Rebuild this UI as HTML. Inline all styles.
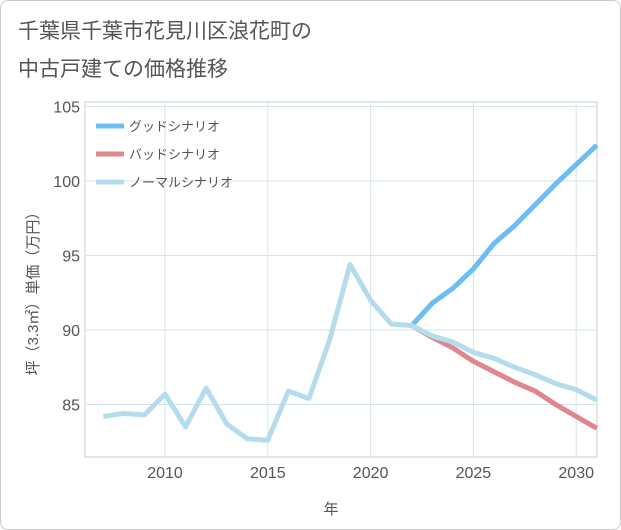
<!DOCTYPE html>
<html><head><meta charset="utf-8"><style>
body{margin:0;background:#fff;font-family:"Liberation Sans","Noto Sans CJK JP",sans-serif;}
.card{position:relative;width:619px;height:528px;border:1px solid #ccc;border-radius:8px;overflow:hidden;background:#fff}
</style></head><body>
<div class="card">
<svg width="621" height="530" style="position:absolute;left:-1px;top:-1px">
<text x="18" y="38" font-size="21" fill="#555">千葉県千葉市花見川区浪花町の</text>
<text x="18" y="76" font-size="21" fill="#555">中古戸建ての価格推移</text>
<g id="grid"></g><g id="series"></g><g id="legend"></g>
<text x="331" y="514" font-size="15" fill="#555" text-anchor="middle">年</text>
<text transform="translate(38,290) rotate(-90)" font-size="15" fill="#555" text-anchor="middle">坪（3.3㎡）単価（万円）</text>
</svg></div>
<script>
const years=[2007,2008,2009,2010,2011,2012,2013,2014,2015,2016,2017,2018,2019,2020,2021,2022,2023,2024,2025,2026,2027,2028,2029,2030,2031];
const normal=[84.2,84.4,84.3,85.7,83.5,86.1,83.7,82.7,82.6,85.9,85.4,89.3,94.4,92.0,90.4,90.3,89.6,89.2,88.5,88.1,87.5,87.0,86.4,86.0,85.3];
const goodYears=[2022,2023,2024,2025,2026,2027,2028,2029,2030,2031];
const good=[90.3,91.8,92.8,94.1,95.8,97.0,98.4,99.8,101.1,102.4];
const bad=[90.3,89.5,88.8,87.9,87.2,86.5,85.9,85.0,84.2,83.4];
const xTicks=[2010,2015,2020,2025,2030];
const yTicks=[85,90,95,100,105];
const L=85,R=597,T=102,B=457;
const x=v=>165+(v-2010)*20.56;
const y=v=>181-(v-100)*14.9;
const ns="http://www.w3.org/2000/svg";
function mk(t,a,p){const e=document.createElementNS(ns,t);for(const k in a)e.setAttribute(k,a[k]);p.appendChild(e);return e;}
const g=document.getElementById('grid');
const fr=mk('rect',{x:L,y:T,width:R-L,height:B-T,fill:'none',stroke:'#ccc'},g);


xTicks.forEach(t=>{const l=mk('line',{x1:x(t),x2:x(t),y1:T,y2:B,stroke:'#d6e4ee'},g);


const tx=mk('text',{x:x(t),y:478,'font-size':16,fill:'#555','text-anchor':'middle'},g);tx.textContent=t;

});
yTicks.forEach(t=>{const l=mk('line',{x1:L,x2:R,y1:y(t),y2:y(t),stroke:'#d6e4ee'},g);


const tx=mk('text',{x:80,y:y(t)+6,'font-size':16,fill:'#555','text-anchor':'end'},g);tx.textContent=t;

});
const s=document.getElementById('series');
function line(xs,vs,c,n){const p=mk('polyline',{points:xs.map((v,i)=>x(v)+','+y(vs[i])).join(' '),fill:'none',stroke:c,'stroke-width':5,'stroke-linejoin':'round'},s);

}
line(goodYears,good,'#6cbdf2','good-scenario-line');
line(goodYears,bad,'#e0868f','bad-scenario-line');
line(years,normal,'#b5dcec','normal-scenario-line');
const lg=document.getElementById('legend');
[['グッドシナリオ','#6cbdf2'],['バッドシナリオ','#e0868f'],['ノーマルシナリオ','#b5dcec']].forEach((d,i)=>{
const yy=126+i*28;
const l=mk('line',{x1:96,x2:124,y1:yy,y2:yy,stroke:d[1],'stroke-width':5},lg);


const t=mk('text',{x:129,y:yy+5,'font-size':13,fill:'#555'},lg);t.textContent=d[0];

});
</script>
</body></html>
